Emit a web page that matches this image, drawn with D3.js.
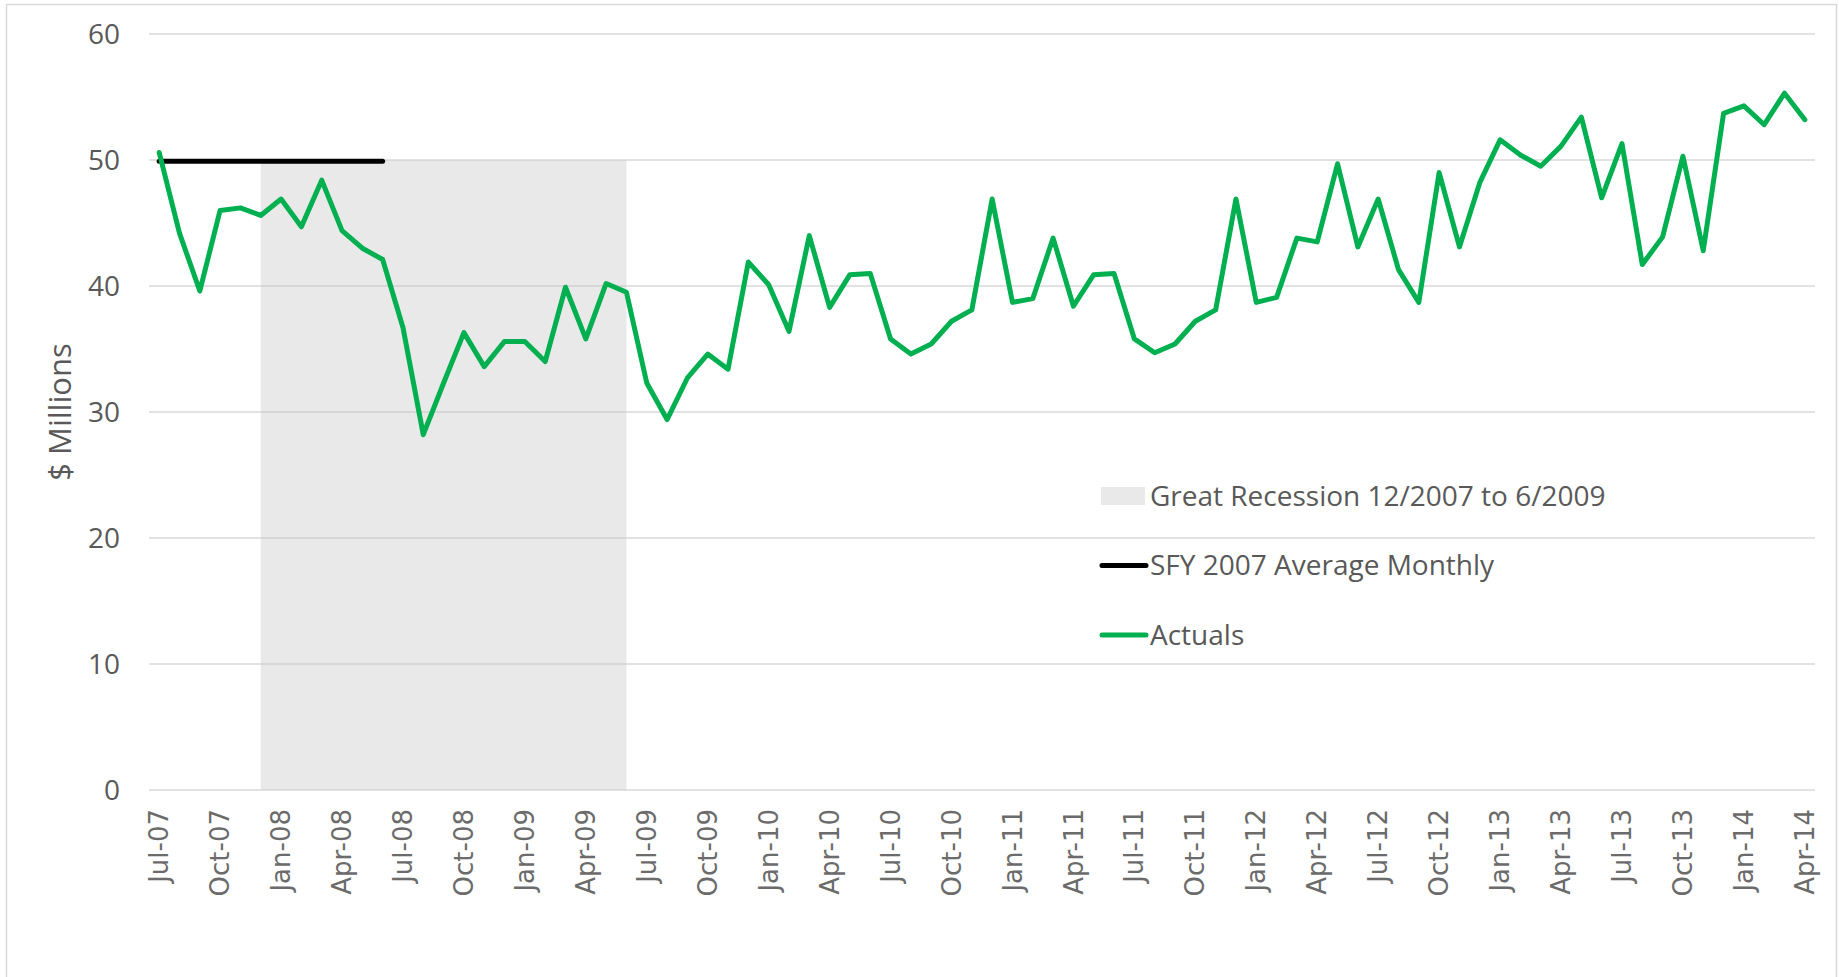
<!DOCTYPE html>
<html>
<head>
<meta charset="utf-8">
<script src="https://cdn.jsdelivr.net/npm/d3@7"></script>
<style>
  body { margin: 0; background: #fff; }
  svg { display: block; }
</style>
</head>
<body>
<div id="chart"></div>
<script>
// monthly actuals, Jul-07 .. Apr-14 ($ millions)
const actuals = [
  50.6, 44.2, 39.6, 46.0, 46.2, 45.6, 46.9, 44.7, 48.4, 44.4, 43.0, 42.1,
  36.7, 28.2, 32.3, 36.3, 33.6, 35.6, 35.6, 34.0, 39.9, 35.8, 40.2, 39.5,
  32.3, 29.4, 32.7, 34.6, 33.4, 41.9, 40.1, 36.4, 44.0, 38.3, 40.9, 41.0,
  35.8, 34.6, 35.4, 37.2, 38.1, 46.9, 38.7, 39.0, 43.8, 38.4, 40.9, 41.0,
  35.8, 34.7, 35.4, 37.2, 38.1, 46.9, 38.7, 39.1, 43.8, 43.5, 49.7, 43.1,
  46.9, 41.3, 38.7, 49.0, 43.1, 48.2, 51.6, 50.4, 49.5, 51.1, 53.4, 47.0,
  51.3, 41.7, 43.9, 50.3, 42.8, 53.7, 54.3, 52.8, 55.3, 53.2
];
// SFY 2007 average monthly, drawn across Jul-07 .. Jun-08
const sfyAverage = 49.9;
const sfyMonths = 12;
// recession band (Dec-07 .. Jun-09), drawn at 50
const recessionStart = 5;
const recessionEnd = 23;
const recessionLevel = 50;

const tickLabels = [
  "Jul-07", "Oct-07", "Jan-08", "Apr-08", "Jul-08", "Oct-08", "Jan-09", "Apr-09",
  "Jul-09", "Oct-09", "Jan-10", "Apr-10", "Jul-10", "Oct-10", "Jan-11", "Apr-11",
  "Jul-11", "Oct-11", "Jan-12", "Apr-12", "Jul-12", "Oct-12", "Jan-13", "Apr-13",
  "Jul-13", "Oct-13", "Jan-14", "Apr-14"
];
const yTicks = [0, 10, 20, 30, 40, 50, 60];

const legendItems = [
  {label: "Great Recession 12/2007 to 6/2009", type: "area"},
  {label: "SFY 2007 Average Monthly", type: "line", color: "#000000"},
  {label: "Actuals", type: "line", color: "#00B050"}
];

let width = 1839, height = 977;
let plot = {left: 149, right: 1815, top: 34, bottom: 790};

let svg = d3.select("#chart").append("svg")
    .attr("width", width)
    .attr("height", height);

// chart border
svg.append("rect")
    .attr("x", 6.5).attr("y", 4.5)
    .attr("width", 1830).attr("height", 990)
    .attr("fill", "none")
    .attr("stroke", "#D9D9D9")
    .attr("stroke-width", 1.5);

let idx = d3.range(actuals.length);
let x = d3.scaleBand().domain(idx).range([plot.left, plot.right]);
let cx = i => x(i) + x.bandwidth() / 2;
let y = d3.scaleLinear().domain([0, 60]).range([plot.bottom, plot.top]);

// gridlines
svg.append("g")
  .selectAll("line")
  .data(yTicks)
  .join("line")
    .attr("x1", plot.left).attr("x2", plot.right)
    .attr("y1", d => y(d)).attr("y2", d => y(d))
    .attr("stroke", "#D9D9D9")
    .attr("stroke-width", 1.5);

// y tick labels
svg.append("g")
  .selectAll("text")
  .data(yTicks)
  .join("text")
    .attr("x", 120)
    .attr("y", d => y(d))
    .attr("dy", "0.35em")
    .attr("text-anchor", "end")
    .attr("font-family", "'Open Sans', sans-serif")
    .attr("font-size", 28)
    .attr("fill", "#595959")
    .text(d => d);

// y axis title
svg.append("text")
    .attr("transform", "translate(60," + ((plot.top + plot.bottom) / 2) + ") rotate(-90)")
    .attr("dy", "0.35em")
    .attr("text-anchor", "middle")
    .attr("font-family", "'Open Sans', sans-serif")
    .attr("font-size", 31)
    .attr("fill", "#595959")
    .text("$ Millions");

// recession area
let recIdx = d3.range(recessionStart, recessionEnd + 1);
let area = d3.area()
    .x(d => cx(d))
    .y0(y(0))
    .y1(y(recessionLevel));
svg.append("path")
    .datum(recIdx)
    .attr("d", area)
    .attr("fill", "#C8C8C8")
    .attr("fill-opacity", 0.4);

// x tick labels (every third month)
svg.append("g")
  .selectAll("text")
  .data(tickLabels)
  .join("text")
    .attr("transform", (d, i) => "translate(" + cx(i * 3) + "," + (plot.bottom + 19) + ") rotate(-90)")
    .attr("dy", "0.35em")
    .attr("text-anchor", "end")
    .attr("font-family", "'DejaVu Sans', sans-serif")
    .attr("font-size", 26)
    .attr("fill", "#6b6b6b")
    .text(d => d);

let line = d3.line()
    .x(d => cx(d[0]))
    .y(d => y(d[1]));

// SFY 2007 average line
svg.append("path")
    .datum(d3.range(sfyMonths).map(i => [i, sfyAverage]))
    .attr("d", line)
    .attr("fill", "none")
    .attr("stroke", "#000000")
    .attr("stroke-width", 5)
    .attr("stroke-linecap", "round");

// actuals
svg.append("path")
    .datum(actuals.map((v, i) => [i, v]))
    .attr("d", line)
    .attr("fill", "none")
    .attr("stroke", "#00B050")
    .attr("stroke-width", 5)
    .attr("stroke-linejoin", "round")
    .attr("stroke-linecap", "round");

// legend
let legend = svg.append("g")
  .selectAll("g")
  .data(legendItems)
  .join("g")
    .attr("transform", (d, i) => "translate(1101," + (496 + i * 69.5) + ")");

legend.filter(d => d.type === "area").append("rect")
    .attr("x", 0).attr("y", -9)
    .attr("width", 44).attr("height", 18)
    .attr("fill", "#C8C8C8")
    .attr("fill-opacity", 0.4);

legend.filter(d => d.type === "line").append("line")
    .attr("x1", 1).attr("x2", 45)
    .attr("stroke", d => d.color)
    .attr("stroke-width", 5)
    .attr("stroke-linecap", "round");

legend.append("text")
    .attr("x", 49)
    .attr("dy", "0.35em")
    .attr("font-family", "'Open Sans', sans-serif")
    .attr("font-size", 28)
    .attr("fill", "#595959")
    .text(d => d.label);
</script>
</body>
</html>
